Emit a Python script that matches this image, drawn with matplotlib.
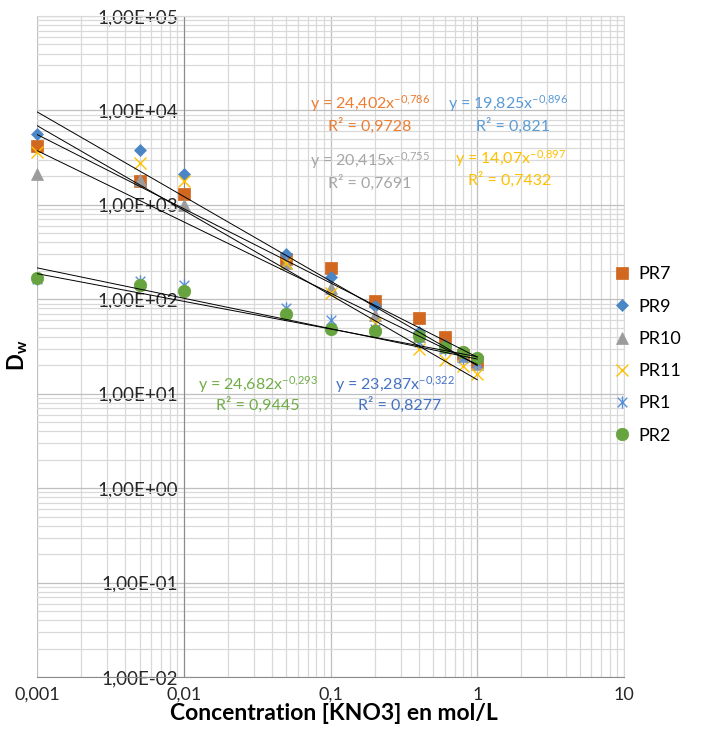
import matplotlib
matplotlib.use("Agg")
import matplotlib.pyplot as plt
import numpy as np
from matplotlib.path import Path
from matplotlib.ticker import LogLocator, FuncFormatter, NullFormatter

plt.rcParams["font.family"] = ["Lato", "DejaVu Sans"]
plt.rcParams["mathtext.fontset"] = "custom"
plt.rcParams["mathtext.rm"] = "Lato"
plt.rcParams["mathtext.bf"] = "Lato:bold"
plt.rcParams["mathtext.it"] = "Lato:italic"

# concentrations (mol/L) and measured Dw per sample
conc = [0.001, 0.005, 0.01, 0.05, 0.1, 0.2, 0.4, 0.6, 0.8, 1.0]
pr7 = [4240, 1800, 1290, 265, 217, 97, 63, 40, 25.6, 21.8]
pr9 = [5600, 3830, 2120, 300, 173, 85, 45, 33, 26, 22.5]
pr10 = [2120, 1830, 1000, 245, 131, 69, 41, 31, 25, 20.7]
pr11 = [3640, 2800, 1780, 240, 116, 56, 30, 22.5, 19.5, 16]
pr1 = [163, 157, 140, 80, 61, 48, 35, 29.5, 24, 21]
pr2 = [168, 140, 123, 69.5, 48, 46, 40.5, 31.5, 27.5, 23.8]

names = ["PR7", "PR9", "PR10", "PR11", "PR1", "PR2"]
series = [pr7, pr9, pr10, pr11, pr1, pr2]

# power law trendlines y = a * x^b
fit_a = [24.402, 19.825, 20.415, 14.07, 23.287, 24.682]
fit_b = [-0.786, -0.896, -0.755, -0.897, -0.322, -0.293]
fit_r2 = ["0,9728", "0,821", "0,7691", "0,7432", "0,8277", "0,9445"]

x_ticks = [0.001, 0.01, 0.1, 1, 10]
x_ticklabels = ["0,001", "0,01", "0,1", "1", "10"]

# asterisk marker: an x with a vertical bar
star = Path([(-1, -1), (1, 1), (-1, 1), (1, -1), (0, -1.3), (0, 1.3)],
            [Path.MOVETO, Path.LINETO, Path.MOVETO, Path.LINETO, Path.MOVETO, Path.LINETO])

markers = ["s", "D", "^", "x", star, "o"]
msizes = [8.5, 6.5, 8.5, 9, 9, 9]
mcolors = ["#D2671F", "#4A86C6", "#9B9B9B", "#FFC000", "#5B8FD8", "#67A33E"]
tcolors = ["#ED7D31", "#5B9BD5", "#A5A5A5", "#FFC000", "#4472C4", "#70AD47"]

# label anchor (axes fraction) for equation and R² lines
lab_pos = [
    ((0.567, 0.867), (0.567, 0.834)),
    ((0.802, 0.867), (0.811, 0.834)),
    ((0.567, 0.782), (0.567, 0.747)),
    ((0.806, 0.784), (0.806, 0.752)),
    ((0.610, 0.443), (0.618, 0.411)),
    ((0.376, 0.443), (0.376, 0.411)),
]

fig = plt.figure(figsize=(7.12, 7.43), dpi=100)
ax = fig.add_axes([37 / 712, 1 - 677 / 743, 587 / 712, 661 / 743])

ax.set_xscale("log")
ax.set_yscale("log")
ax.set_xlim(0.001, 10)
ax.set_ylim(1e-2, 1e5)

ax.xaxis.set_minor_locator(LogLocator(base=10, subs=np.arange(2, 10)))
ax.yaxis.set_minor_locator(LogLocator(base=10, subs=np.arange(2, 10)))
ax.xaxis.set_minor_formatter(NullFormatter())
ax.yaxis.set_minor_formatter(NullFormatter())
ax.set_xticks(x_ticks)
ax.set_xticklabels(x_ticklabels)
ax.set_yticks([10.0 ** k for k in range(-2, 6)])
ax.yaxis.set_major_formatter(FuncFormatter(
    lambda v, p: "1,00E{}{:02d}".format("+" if v >= 1 else "-", abs(int(round(np.log10(v)))))))

ax.grid(True, which="major", color="#BFBFBF", linewidth=0.9, zorder=0)
ax.grid(True, which="minor", color="#D9D9D9", linewidth=0.9, zorder=0)
ax.set_axisbelow(True)

for s in ["top", "right"]:
    ax.spines[s].set_color("#D9D9D9")
ax.spines["left"].set_position(("data", 0.01))
ax.spines["left"].set_color("#8C8C8C")
ax.spines["bottom"].set_color("#8C8C8C")

ax.tick_params(axis="both", which="both", length=0)
ax.tick_params(axis="y", labelsize=13.5, pad=4, labelcolor="#262626")
ax.tick_params(axis="x", labelsize=13, pad=7, labelcolor="#262626")

xfit = np.array([0.001, 1.0])
for i in range(len(series)):
    ax.plot(conc, series[i], linestyle="none", marker=markers[i], markersize=msizes[i],
            color=mcolors[i], markeredgecolor=mcolors[i],
            markeredgewidth=1.0 if markers[i] in ("x",) or i == 4 else 0.5,
            label=names[i], zorder=3, clip_on=False)

for i in range(len(series)):
    ax.plot(xfit, fit_a[i] * xfit ** fit_b[i], color="black", linewidth=0.7, zorder=4)
    a_txt = ("%g" % fit_a[i]).replace(".", ",")
    b_txt = ("%g" % fit_b[i]).replace("-", "").replace(".", "{,}")
    eq = r"y = %sx$^{\mathregular{-%s}}$" % (a_txt, b_txt)
    (ex, ey), (rx, ry) = lab_pos[i]
    ax.text(ex, ey, eq, transform=ax.transAxes, ha="center", va="center",
            fontsize=11.5, color=tcolors[i], zorder=5)
    ax.text(rx, ry, "R² = " + fit_r2[i], transform=ax.transAxes, ha="center",
            va="center", fontsize=11.5, color=tcolors[i], zorder=5)

fig.text(334 / 712, 1 - 714 / 743, "Concentration [KNO3] en mol/L", ha="center",
         va="center", fontsize=16.5, fontweight="bold")
fig.text(18 / 712, 1 - 355 / 743, r"$\mathbf{D_w}$", ha="center", va="center",
         rotation=90, fontsize=16)

fig.legend(loc="center left", bbox_to_anchor=(606 / 712, 1 - 355 / 743),
           frameon=False, fontsize=13, handlelength=1.0, handletextpad=0.4,
           labelspacing=0.9, borderaxespad=0)

fig.savefig("out.png", dpi=100)
